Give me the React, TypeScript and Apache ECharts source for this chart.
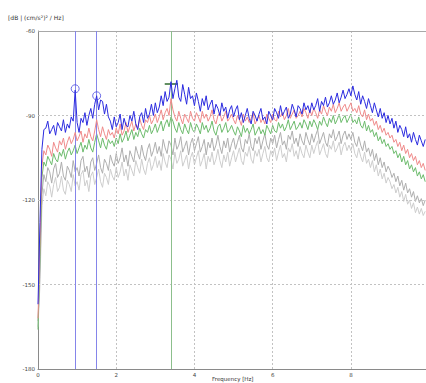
import React, { useEffect, useRef } from "react";
import * as echarts from "echarts";

// frequency bins (Hz), 0.05 Hz spacing from 0 to 9.9
const freqStep = 0.05;
const freqCount = 199;
const frequencies: number[] = [];
for (let i = 0; i < freqCount; i++) frequencies.push(Math.round(i * freqStep * 100) / 100);

const xGridLines = [2, 4, 6, 8];
const yGridLines = [-150, -120, -90];

const blue = [
  -157, -128, -102, -95, -94.5, -92, -96.5, -95, -93.5, -97, -92.5, -94, -95.5, -91.5, -96, -93, -94.5, -90.5, -92, -81,
  -92.5, -96, -91, -92.5, -89, -93.5, -90, -87.5, -91, -86, -83, -88, -84.5, -85, -89.5, -86, -90.5, -92, -95, -90.5,
  -94, -92.5, -89.5, -95, -91, -93.5, -94, -90, -92, -88.5, -93, -95, -90.5, -89, -92.5, -87.5, -91, -89.5, -86, -90,
  -85.5, -89, -87, -83, -86.5, -81.5, -85, -83.5, -78, -84, -80.5, -77.5, -83.5, -85, -79, -82.5, -86, -80, -84, -83,
  -86.5, -82, -85, -88.5, -84, -86.5, -83, -88, -86, -84.5, -89.5, -86, -87.5, -90, -85.5, -88.5, -87, -91, -88, -86.5,
  -90.5, -88, -86.5, -91.5, -89, -92.5, -90, -87.5, -91, -93, -88.5, -90, -92, -89.5, -87.5, -91.5, -90.5, -93, -88.5, -90,
  -91.5, -87.5, -89, -91, -86.5, -90, -88.5, -87, -91, -89.5, -86, -88, -90.5, -86.5, -87.5, -89.5, -85.5, -88, -86.5, -89,
  -85.5, -88, -86.5, -84, -88.5, -85, -86.5, -83.5, -87, -85.5, -83, -86, -84.5, -82, -85.5, -83.5, -81, -84, -82.5, -80.5,
  -83, -79.5, -82.5, -84.5, -81.5, -86, -83, -85, -87.5, -84, -86.5, -89, -85.5, -88, -90.5, -87.5, -91, -89, -92.5, -90,
  -93, -91, -94.5, -92, -96, -93.5, -95, -97.5, -94, -98, -96.5, -99.5, -96, -98.5, -100.5, -97, -99, -101, -98.5,
];

const red = [
  -162, -135, -108, -102.5, -104, -100.5, -102, -104.5, -99.5, -101.5, -103, -99, -100.5, -98, -102, -99.5, -97.5, -100, -98.5, -96,
  -99, -97.5, -95.5, -99.5, -96.5, -98, -94.5, -97.5, -99, -95.5, -91.5, -95, -97.5, -94, -96.5, -98.5, -95, -97, -96, -98,
  -94.5, -96.5, -93, -97, -95.5, -92.5, -96, -94, -92, -95.5, -93, -94.5, -91, -93.5, -95, -91.5, -92.5, -90, -93, -91.5,
  -89.5, -92.5, -90.5, -88, -91.5, -89, -87.5, -90, -84, -88, -90.5, -92, -88.5, -91, -93, -89.5, -91, -92.5, -88.5, -91,
  -92, -89, -90.5, -92.5, -88.5, -91, -89.5, -92, -90.5, -88, -91.5, -93, -90, -89, -92, -90.5, -88.5, -92, -91, -89.5,
  -91.5, -93, -90, -91.5, -93.5, -89.5, -92, -90.5, -92.5, -91, -89, -93, -91.5, -90, -92.5, -91, -93, -89.5, -91, -92.5,
  -89.5, -91.5, -92, -88.5, -90.5, -89, -91.5, -90, -87.5, -91, -89.5, -88, -91, -90, -88.5, -90.5, -87.5, -89, -91, -88,
  -90, -87.5, -89, -91, -88, -89.5, -86.5, -88.5, -90, -87, -88.5, -86, -89, -87.5, -85.5, -88.5, -87, -86, -88.5, -87,
  -85.5, -88.5, -87.5, -89, -86.5, -89.5, -90.5, -88, -91.5, -89.5, -92, -91, -93.5, -92, -95, -93.5, -96, -94.5, -97, -96,
  -98, -97, -99.5, -98.5, -101, -99.5, -102.5, -100.5, -103.5, -102, -105, -103.5, -106, -104.5, -107.5, -106, -108.5, -107, -109.5,
];

const green = [
  -166, -140, -112, -106.5, -108, -104.5, -106, -107.5, -103.5, -105.5, -106.5, -103, -104.5, -102, -105.5, -103, -101.5, -104, -102.5, -100.5,
  -103.5, -101.5, -99.5, -103, -100.5, -102, -98.5, -101.5, -103, -99.5, -96.5, -99, -101.5, -98, -100.5, -102, -98.5, -100, -99, -101,
  -98, -100, -96.5, -99.5, -98, -95.5, -99, -97, -95, -98.5, -96, -97.5, -94.5, -96.5, -98, -95, -96, -93.5, -96.5, -95,
  -93, -96, -94, -92, -95.5, -93, -91.5, -94, -90.5, -92, -94.5, -96, -92.5, -95, -96.5, -93, -95, -96.5, -92.5, -95,
  -96, -93, -94.5, -96.5, -92.5, -95, -93.5, -96, -94.5, -92, -95.5, -97, -94, -93, -96, -94.5, -92.5, -96, -95, -93.5,
  -95.5, -97, -94, -95.5, -97.5, -93.5, -96, -94.5, -96.5, -95, -93, -97, -95.5, -94, -96.5, -95, -97, -93.5, -95, -96.5,
  -93.5, -95.5, -96, -92.5, -94.5, -93, -95.5, -94, -91.5, -95, -93.5, -92, -95, -94, -92.5, -94.5, -91.5, -93, -95, -92,
  -94, -91.5, -93, -95, -92, -93.5, -90.5, -92.5, -94, -91, -92.5, -90, -93, -91.5, -89.5, -92.5, -91, -90, -92.5, -91,
  -89.5, -92.5, -91.5, -93, -90.5, -93.5, -94.5, -92, -95.5, -93.5, -96, -95, -97.5, -96, -99, -97.5, -100, -98.5, -101, -100,
  -102, -101, -103.5, -102.5, -105, -103.5, -106.5, -104.5, -107.5, -106, -109, -107.5, -110, -108.5, -111.5, -110, -112.5, -111, -113.5,
];

const grey1 = [
  -163, -145, -118, -111, -113.5, -108.5, -110, -114, -109, -107, -112, -110.5, -106.5, -111.5, -113, -108, -109.5, -112, -106, -110,
  -108.5, -111.5, -106, -104.5, -110, -108, -112, -106.5, -105, -109.5, -107, -104, -108.5, -110.5, -105.5, -107, -109.5, -104, -106.5, -108,
  -103.5, -107, -105, -101.5, -106.5, -104, -108, -102.5, -104.5, -106.5, -101, -103.5, -105.5, -100.5, -104, -106, -102, -100, -104.5, -102.5,
  -99.5, -103.5, -101, -104.5, -98.5, -101.5, -103.5, -99, -100.5, -104, -98, -102, -100.5, -97.5, -103, -101, -99, -104, -100, -98,
  -102.5, -100, -97.5, -103, -101, -98.5, -104, -99.5, -101.5, -98, -102.5, -100.5, -97, -101, -103.5, -99, -101.5, -98, -103, -100,
  -98, -102, -99.5, -97, -101.5, -103, -98.5, -100, -96.5, -101, -102.5, -98, -100, -97.5, -102, -99, -96.5, -100.5, -102, -98,
  -100, -97, -101.5, -98.5, -96, -100.5, -99, -102, -97, -98.5, -95.5, -100, -98, -101, -96.5, -99, -100.5, -96, -98.5, -100.5,
  -96.5, -99.5, -97, -95, -100, -98, -96, -99.5, -101, -96.5, -98, -95, -99, -97.5, -95.5, -100, -97, -95.5, -98.5, -96.5,
  -98.5, -96, -99.5, -101, -97.5, -100.5, -102.5, -99, -103, -101.5, -104.5, -102, -106, -103.5, -107.5, -105, -108.5, -106.5, -110, -108,
  -109.5, -112, -110.5, -113.5, -111.5, -115, -113, -116.5, -114, -117.5, -116, -119, -117, -120.5, -118.5, -121, -119.5, -122, -120,
];

const grey2 = [
  -165, -150, -122, -116, -118.5, -113.5, -115, -119, -114.5, -112, -117, -115.5, -111.5, -116.5, -118, -113, -114.5, -117, -111, -115,
  -113.5, -116.5, -111, -109.5, -115, -113, -117, -111.5, -110, -114.5, -112, -109, -113.5, -115.5, -110.5, -112, -114.5, -109, -111.5, -113,
  -108.5, -112, -110, -106.5, -111.5, -109, -113, -107.5, -109.5, -111.5, -106, -108.5, -110.5, -105.5, -109, -111, -107, -105, -109.5, -107.5,
  -104.5, -108.5, -106, -109.5, -103.5, -106.5, -108.5, -104, -105.5, -109, -103, -107, -105.5, -102.5, -108, -106, -104, -109, -105, -103,
  -107.5, -105, -102.5, -108, -106, -103.5, -109, -104.5, -106.5, -103, -107.5, -105.5, -102, -106, -108.5, -104, -106.5, -103, -108, -105,
  -102.5, -106.5, -104, -101.5, -106, -107.5, -103, -104.5, -101, -105.5, -107, -102.5, -104.5, -102, -106.5, -103.5, -101, -105, -106.5, -102.5,
  -104.5, -101.5, -106, -103, -100.5, -105, -103.5, -106.5, -101.5, -103, -100, -104.5, -102.5, -105.5, -101, -103.5, -105, -100.5, -103, -105,
  -100.5, -103.5, -101, -99, -104, -102, -100, -103.5, -105, -100.5, -102, -99, -103, -101.5, -99.5, -104, -101, -99.5, -102.5, -100.5,
  -102.5, -100, -103.5, -105, -101.5, -104.5, -106.5, -103, -107, -105.5, -108.5, -106, -110, -107.5, -111.5, -109, -112.5, -110.5, -114, -112,
  -113.5, -116, -114.5, -117.5, -115.5, -119, -117, -120.5, -118, -121.5, -120, -123, -121, -124.5, -122.5, -125, -123, -125.5, -124,
];

// marker cursors
const blueMarkers = [0.95, 1.5];
const greenMarker = 3.4;
const peakCircles: [number, number][] = [
  [0.95, -80.5],
  [1.5, -83],
];
const crossLevel = -78.8;
const crossSpan: [number, number] = [3.24, 3.58];

const pair = (vals: number[]) => vals.map((v, i) => [frequencies[i], v]);

export default function App() {
  const ref = useRef<HTMLDivElement>(null);
  useEffect(() => {
    if (!ref.current) return;
    const chart = echarts.init(ref.current, undefined, { renderer: "svg" });
    const lineBase = (name: string, data: number[], color: string, z: number) => ({
      name,
      type: "line",
      data: pair(data),
      showSymbol: false,
      symbol: "none",
      z,
      lineStyle: { color, width: 1 },
      itemStyle: { color },
    });
    const gridStyle = { color: "#c2c2c2", type: [2, 2], width: 1 };
    chart.setOption({
      animation: false,
      backgroundColor: "#ffffff",
      grid: { left: 38, top: 31, right: 0, bottom: 14, containLabel: false },
      xAxis: {
        type: "value",
        min: 0,
        max: 9.92,
        interval: 2,
        axisLine: { show: true, lineStyle: { color: "#8a8a8a", width: 1 } },
        axisTick: { show: false },
        minorTick: { show: false },
        minorSplitLine: { show: false },
        axisLabel: {
          fontSize: 5.5,
          color: "#444",
          margin: 3,
          fontFamily: "DejaVu Sans",
          showMaxLabel: false,
        },
        splitLine: { show: false },
      },
      yAxis: {
        type: "value",
        min: -180,
        max: -60,
        interval: 30,
        axisLine: { show: true, lineStyle: { color: "#8a8a8a", width: 1 } },
        axisTick: { show: false },
        minorTick: { show: false },
        minorSplitLine: { show: false },
        axisLabel: {
          fontSize: 5.5,
          color: "#444",
          margin: 3,
          fontFamily: "DejaVu Sans",
        },
        splitLine: { show: false },
      },
      graphic: [
        {
          type: "text",
          left: 8,
          top: 14,
          style: { text: "[dB | (cm/s²)² / Hz]", fontSize: 6, fill: "#333", fontFamily: "DejaVu Sans" },
        },
        {
          type: "text",
          left: 212,
          top: 376,
          style: { text: "Frequency [Hz]", fontSize: 5.5, fill: "#333", fontFamily: "DejaVu Sans" },
        },
      ],
      series: [
        {
          name: "gridlines",
          type: "line",
          data: [],
          z: 1,
          markLine: {
            silent: true,
            symbol: "none",
            label: { show: false },
            lineStyle: gridStyle,
            data: [
              ...xGridLines.map((x) => ({ xAxis: x })),
              ...yGridLines.map((y) => ({ yAxis: y })),
              { yAxis: -60, lineStyle: { color: "#a8a8a8", type: "solid", width: 1 } },
            ],
          },
        },
        lineBase("grey2", grey2, "#cdcdcd", 2),
        lineBase("grey1", grey1, "#aeaeae", 3),
        {
          ...lineBase("green", green, "#6cbb6c", 4),
          markLine: {
            silent: true,
            symbol: "none",
            label: { show: false },
            lineStyle: { color: "#8cbf8c", type: "solid", width: 1 },
            data: [{ xAxis: greenMarker }],
          },
        },
        {
          ...lineBase("red", red, "#ef8a8a", 5),
          markLine: {
            silent: true,
            symbol: "none",
            label: { show: false },
            lineStyle: { color: "#2f6a2f", type: "solid", width: 1.5 },
            data: [[{ coord: [crossSpan[0], crossLevel] }, { coord: [crossSpan[1], crossLevel] }]],
          },
        },
        {
          ...lineBase("blue", blue, "#2b2bdf", 6),
          markLine: {
            silent: true,
            symbol: "none",
            label: { show: false },
            lineStyle: { color: "#8585ea", type: "solid", width: 1 },
            data: blueMarkers.map((x) => ({ xAxis: x })),
          },
        },
        {
          name: "peaks",
          type: "scatter",
          data: peakCircles,
          symbol: "circle",
          symbolSize: 8,
          z: 7,
          itemStyle: { color: "rgba(0,0,0,0)", borderColor: "#4a4ae0", borderWidth: 1 },
        },
      ],
    });
    return () => chart.dispose();
  }, []);
  return (
    <div
      ref={ref}
      style={{ position: "fixed", left: 0, top: 0, width: 426, height: 383 }}
    />
  );
}
